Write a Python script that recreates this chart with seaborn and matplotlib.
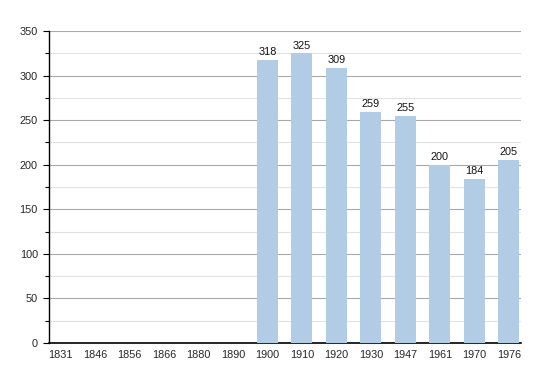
import numpy as np
import pandas as pd
import matplotlib
matplotlib.use("Agg")
import matplotlib.pyplot as plt
import seaborn as sns
from matplotlib.ticker import MultipleLocator

years = ["1831", "1846", "1856", "1866", "1880", "1890", "1900", "1910",
         "1920", "1930", "1947", "1961", "1970", "1976"]
population = [np.nan, np.nan, np.nan, np.nan, np.nan, np.nan, 318, 325,
              309, 259, 255, 200, 184, 205]

sns.set_style("white")
plt.rcParams['font.family'] = ['Liberation Sans', 'DejaVu Sans']

df = pd.DataFrame({"year": years, "pop": population})

fig = plt.figure(figsize=(5.5, 3.73), dpi=100)
ax = fig.add_axes([49/550, 30/373, 472/550, 312/373])

sns.barplot(data=df, x="year", y="pop", order=years, color="#b3cce6",
            saturation=1, width=0.61, ax=ax, zorder=3, linewidth=0,
            edgecolor="none")

for c in ax.containers:
    labels = ["" if np.isnan(v) else f"{int(v)}" for v in c.datavalues]
    ax.bar_label(c, labels=labels, padding=2, fontsize=7.8, color="#111111")

ax.set_xlim(-0.33, 13.35)
ax.set_ylim(0, 350)
ax.yaxis.set_major_locator(MultipleLocator(50))
ax.yaxis.set_minor_locator(MultipleLocator(25))
ax.grid(which="major", axis="y", color="#a8a8a8", linewidth=0.8, zorder=0)
ax.grid(which="minor", axis="y", color="#e2e2e2", linewidth=0.8, zorder=0)
ax.set_axisbelow(True)

for s in ["top", "right"]:
    ax.spines[s].set_visible(False)
ax.spines["left"].set_color("black")
ax.spines["bottom"].set_color("black")
ax.spines["left"].set_linewidth(1.0)
ax.spines["bottom"].set_linewidth(1.2)

ax.tick_params(axis="y", which="major", left=True, length=4, width=0.8,
               labelsize=7.8, pad=4, color="black")
ax.tick_params(axis="y", which="minor", left=True, length=3, width=0.8,
               color="black")
ax.tick_params(axis="x", bottom=False, labelsize=7.8, pad=1.5)
ax.set_xlabel("")
ax.set_ylabel("")

fig.savefig("out.png", dpi=100)
